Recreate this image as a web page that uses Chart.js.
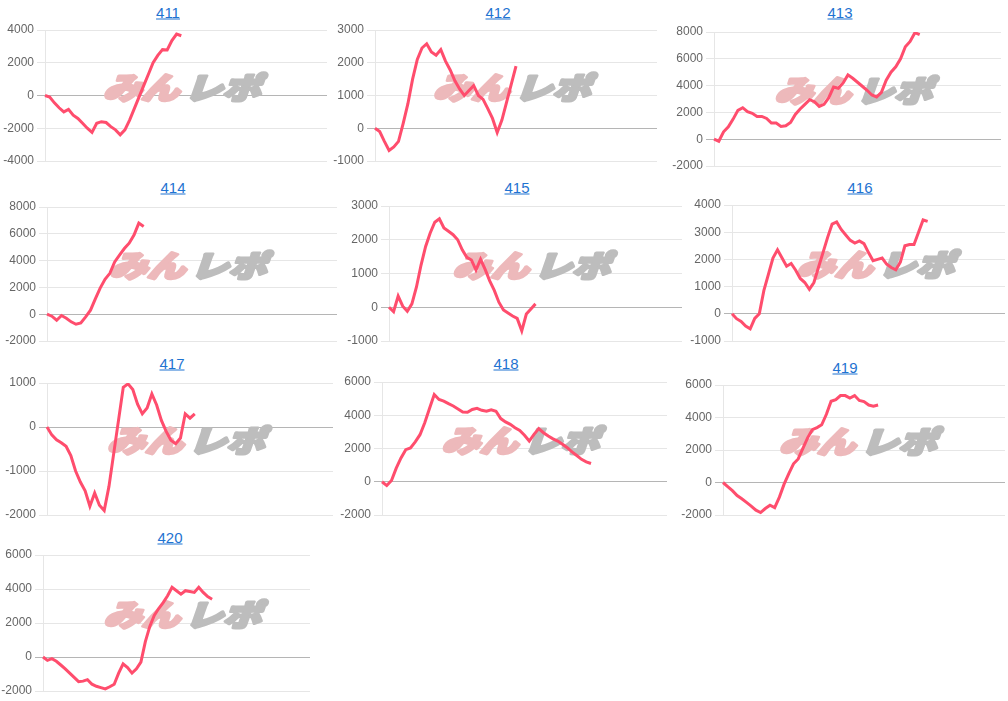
<!DOCTYPE html>
<html>
<head>
<meta charset="utf-8">
<script src="https://cdn.jsdelivr.net/npm/chart.js@4.4.0/dist/chart.umd.min.js"></script>
<style>
  body{margin:0;background:#fff;font-family:"Liberation Sans",Arial,sans-serif;}
  #page{position:relative;width:1008px;height:701px;overflow:hidden;}
  .ttl{position:absolute;transform:translate(-50%,-50%);font-size:15px;color:#1f73d1;text-decoration:underline;white-space:nowrap;}
  .box{position:absolute;}
</style>
</head>
<body>
<div id="page"></div>
<script>
  // chart names (one small chart each)
  var titles = ['411','412','413','414','415','416','417','418','419','420'];

  // cumulative values per chart
  var v411 = [0,-100,-450,-750,-1000,-850,-1200,-1400,-1700,-2000,-2250,-1700,-1600,-1650,-1900,-2100,-2400,-2100,-1500,-800,-100,600,1300,2000,2450,2800,2780,3350,3750,3650];
  var v412 = [0,-100,-400,-680,-570,-400,150,750,1500,2100,2450,2580,2330,2230,2400,2050,1780,1450,1200,1000,1150,1300,1000,880,600,300,-130,250,800,1350,1900];
  var v413 = [0,-150,550,920,1500,2150,2350,2050,1930,1700,1700,1550,1200,1200,950,1000,1250,1850,2250,2600,2950,2800,2450,2600,3100,3900,3800,4200,4800,4550,4250,3950,3650,3300,3150,3500,4400,5000,5400,6000,6900,7300,7950,7800];
  var v414 = [0,-150,-450,-100,-300,-570,-750,-660,-200,300,1150,1950,2600,3050,3900,4400,4900,5300,5900,6800,6550];
  var v415 = [0,-130,330,30,-120,100,600,1250,1800,2200,2520,2620,2350,2250,2150,2000,1700,1480,1400,1100,1420,1120,780,500,150,-80,-170,-260,-330,-700,-200,-50,100];
  var v416 = [0,-180,-280,-450,-550,-170,0,850,1450,2050,2350,2050,1750,1850,1600,1300,1150,900,1150,1700,2250,2800,3300,3380,3100,2900,2700,2600,2680,2580,2250,1950,2000,2050,1820,1700,1620,1900,2500,2550,2550,3000,3450,3400];
  var v417 = [0,-180,-290,-360,-440,-650,-1000,-1250,-1450,-1800,-1500,-1780,-1900,-1350,-600,150,900,980,850,520,300,430,750,500,150,-100,-300,-380,-250,300,200,300];
  var v418 = [0,-230,80,820,1430,1930,2030,2400,2830,3550,4400,5250,4950,4850,4700,4560,4380,4200,4180,4350,4420,4300,4240,4330,4240,3800,3600,3450,3250,3080,2800,2450,2850,3200,2950,2750,2580,2450,2250,2050,1800,1580,1350,1200,1100];
  var v419 = [0,-250,-500,-800,-1000,-1220,-1450,-1700,-1850,-1600,-1400,-1550,-900,-100,550,1150,1450,2100,2750,3250,3380,3550,4200,5000,5100,5350,5350,5200,5350,5050,4980,4770,4700,4770];
  var v420 = [0,-200,-100,-250,-470,-700,-950,-1200,-1450,-1420,-1330,-1600,-1720,-1800,-1880,-1750,-1600,-950,-400,-620,-950,-700,-300,900,1800,2450,2850,3200,3600,4100,3900,3700,3900,3850,3800,4100,3800,3550,3400];
  var series = [v411,v412,v413,v414,v415,v416,v417,v418,v419,v420];

  // y axis range and tick step per chart
  var yMin  = [-4000,-1000,-2000,-2000,-1000,-1000,-2000,-2000,-2000,-2000];
  var yMax  = [ 4000, 3000, 8000, 8000, 3000, 4000, 1000, 6000, 6000, 6000];
  var yStep = [ 2000, 1000, 2000, 2000, 1000, 1000, 1000, 2000, 2000, 2000];
  // number of x slots on each chart's axis
  var slots = [61,61,61,61,65,61,61,61,61,61];

  // plot frame per chart: [left, right, top, bottom, titleX, titleY]
  var frames = [
    [45,327,30,161,168,12],   [375,657,30,161,498,12],   [714,1001,32,166,840,12],
    [47,337,207,341,173,187], [389,682,206,341,517,187], [732,1005,205,341,860,187],
    [47,333,383,515,172,363], [382,667,382,515,506,363], [723,1005,385,515,845,367],
    [43,310,555,691,170,537]
  ];
  // horizontal nudge of the logo from the plot centre
  var wmShift = [0,0,0,0,0,11,0,0,-2,10];

  var AXW = 50, PAD = 12;
  var page = document.getElementById('page');

  // site logo drawn behind the line
  var watermark = {
    id:'wm',
    beforeDatasetsDraw:function(c){
      var a=c.chartArea, ctx=c.ctx;
      var cx=(a.left+a.right)/2+wmShift[+c.canvas.dataset.idx], cy=(a.top+a.bottom)/2-9;
      ctx.save();
      ctx.translate(cx,cy);
      ctx.transform(1.27,0,-0.35,1,0,0);
      ctx.font='900 30px "Noto Sans CJK JP"';
      ctx.textBaseline='middle';
      ctx.lineJoin='round';
      ctx.lineWidth=3;
      ctx.textAlign='right';
      ctx.fillStyle=ctx.strokeStyle='#edb9bb';
      ctx.strokeText('みん',-2,1); ctx.fillText('みん',-2,1);
      ctx.textAlign='left';
      ctx.fillStyle=ctx.strokeStyle='#bdbdbd';
      ctx.strokeText('レポ',2,1); ctx.fillText('レポ',2,1);
      ctx.restore();
    }
  };

  titles.forEach(function(t,i){
    var f=frames[i];
    var ttl=document.createElement('div');
    ttl.className='ttl'; ttl.textContent=t;
    ttl.style.left=f[4]+'px'; ttl.style.top=f[5]+'px';
    page.appendChild(ttl);

    var box=document.createElement('div');
    box.className='box';
    var left=f[0]-AXW;
    box.style.left=left+'px';
    box.style.top=(f[2]-PAD)+'px';
    box.style.width=(f[1]-left)+'px';
    box.style.height=(f[3]-f[2]+2*PAD)+'px';
    var cv=document.createElement('canvas');
    cv.dataset.idx=String(i);
    box.appendChild(cv);
    page.appendChild(box);

    var labels=[]; for(var k=0;k<slots[i];k++) labels.push(k+1);

    new Chart(cv,{
      type:'line',
      data:{labels:labels,datasets:[{data:series[i],borderColor:'#ff4d6d',borderWidth:3,pointRadius:0,tension:0,fill:false}]},
      options:{
        responsive:true,maintainAspectRatio:false,animation:false,
        layout:{padding:{top:PAD,bottom:PAD,left:0,right:0}},
        plugins:{legend:{display:false},tooltip:{enabled:false}},
        scales:{
          x:{display:false},
          y:{
            min:yMin[i],max:yMax[i],
            afterFit:function(s){ s.width=AXW; },
            ticks:{stepSize:yStep[i],color:'#666',font:{family:'"Liberation Sans", Arial, sans-serif',size:12},
                   callback:function(v){ return String(v); }},
            grid:{color:function(ctx){ return ctx.tick && ctx.tick.value===0 ? '#b5b5b5' : '#e6e6e6'; },tickLength:8},
            border:{display:true,color:'#e6e6e6'}
          }
        }
      },
      plugins:[watermark]
    });
  });
</script>
</body>
</html>
